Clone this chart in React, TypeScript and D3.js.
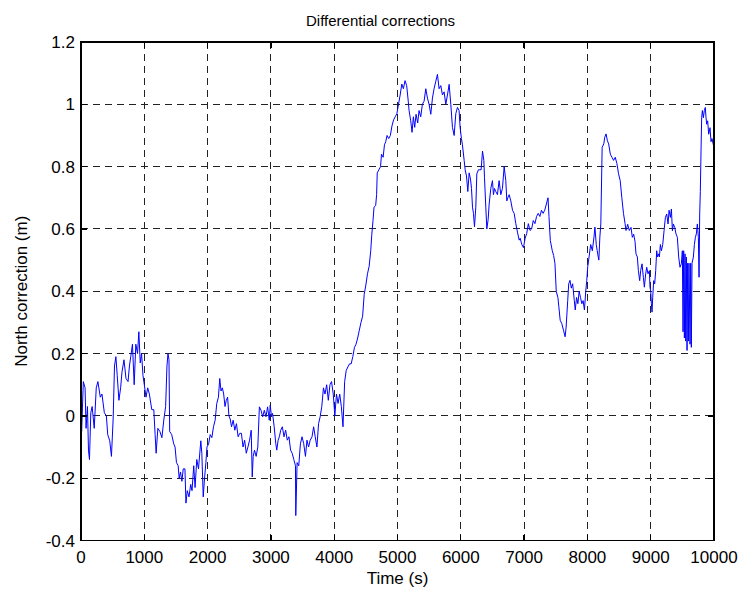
import React, { useEffect, useRef } from "react";
import * as d3 from "d3";

// time (s) of each sample
const times = [
  0, 10, 37, 64, 80, 102, 118, 134, 155, 176, 209, 241, 267, 305, 331, 369, 401, 422, 454, 481,
  508, 529, 551, 572, 599, 626, 647, 679, 711, 743, 765, 786, 813, 840, 866, 893, 914, 936, 957, 979,
  1000, 1027, 1054, 1080, 1118, 1150, 1171, 1187, 1214, 1246, 1278, 1310, 1337, 1358, 1374, 1390, 1401, 1433, 1465, 1486,
  1508, 1535, 1551, 1572, 1594, 1615, 1642, 1658, 1679, 1706, 1733, 1754, 1781, 1802, 1829, 1856, 1893, 1909, 1931, 1952,
  1973, 1990, 2016, 2041, 2067, 2093, 2119, 2145, 2171, 2192, 2212, 2233, 2254, 2275, 2295, 2316, 2337, 2357, 2378, 2404,
  2430, 2456, 2482, 2508, 2534, 2560, 2585, 2611, 2637, 2663, 2689, 2705, 2720, 2741, 2767, 2793, 2818, 2844, 2870, 2896,
  2922, 2948, 2974, 2989, 3010, 3026, 3052, 3077, 3093, 3114, 3134, 3155, 3181, 3207, 3233, 3259, 3285, 3311, 3336, 3362,
  3388, 3393, 3414, 3440, 3466, 3492, 3518, 3546, 3570, 3595, 3621, 3650, 3675, 3700, 3727, 3753, 3778, 3804, 3830, 3855,
  3881, 3907, 3933, 3958, 3985, 4010, 4036, 4061, 4087, 4113, 4139, 4165, 4190, 4216, 4242, 4268, 4294, 4320, 4345, 4371,
  4397, 4423, 4449, 4474, 4500, 4526, 4552, 4577, 4593, 4613, 4629, 4655, 4670, 4680, 4706, 4732, 4747, 4773, 4794, 4814,
  4835, 4861, 4887, 4912, 4938, 4964, 4990, 5016, 5042, 5068, 5093, 5119, 5145, 5170, 5183, 5209, 5230, 5251, 5272, 5293,
  5319, 5340, 5367, 5393, 5420, 5447, 5473, 5499, 5526, 5552, 5578, 5605, 5631, 5657, 5684, 5710, 5736, 5763, 5789, 5816,
  5842, 5868, 5895, 5921, 5947, 5973, 5989, 6010, 6026, 6053, 6069, 6090, 6111, 6132, 6153, 6169, 6185, 6200, 6216, 6237,
  6253, 6279, 6300, 6321, 6343, 6364, 6374, 6395, 6411, 6432, 6448, 6474, 6500, 6516, 6532, 6553, 6579, 6605, 6632, 6658,
  6685, 6711, 6727, 6743, 6764, 6790, 6817, 6843, 6869, 6895, 6922, 6938, 6964, 6990, 7016, 7041, 7067, 7093, 7119, 7145,
  7171, 7197, 7223, 7249, 7275, 7300, 7326, 7352, 7378, 7393, 7414, 7445, 7466, 7487, 7508, 7534, 7549, 7570, 7596, 7622,
  7648, 7664, 7689, 7705, 7725, 7746, 7767, 7793, 7808, 7829, 7850, 7870, 7891, 7912, 7932, 7953, 7974, 7990, 8005, 8026,
  8052, 8078, 8104, 8119, 8140, 8155, 8171, 8181, 8197, 8212, 8233, 8259, 8274, 8295, 8316, 8336, 8362, 8388, 8414, 8440,
  8466, 8492, 8518, 8544, 8570, 8595, 8610, 8636, 8662, 8689, 8710, 8731, 8752, 8768, 8789, 8805, 8826, 8842, 8863, 8884,
  8900, 8921, 8937, 8958, 8979, 8989, 9000, 9011, 9021, 9032, 9047, 9063, 9079, 9095, 9105, 9121, 9137, 9153, 9169, 9190,
  9211, 9232, 9253, 9274, 9290, 9311, 9327, 9343, 9358, 9379, 9400, 9421, 9442, 9463, 9484, 9500, 9511, 9521, 9532, 9542,
  9553, 9563, 9574, 9584, 9595, 9605, 9621, 9632, 9642, 9653, 9674, 9690, 9706, 9721, 9737, 9753, 9764, 9774, 9784, 9795,
  9805, 9816, 9832, 9847, 9863, 9874, 9884, 9900, 9916, 9937, 9953, 9968, 9990, 10000,
];

// north correction (m) at those times
const north = [
  0.0, -0.05, 0.11, 0.09, -0.04, 0.03, -0.11, -0.14, 0.01, 0.03, -0.04, 0.09, 0.11, 0.06, 0.07, 0.01, 0.0, -0.06, -0.08, -0.13,
  -0.01, 0.16, 0.19, 0.13, 0.05, 0.09, 0.14, 0.18, 0.12, 0.11, 0.16, 0.19, 0.23, 0.1, 0.23, 0.2, 0.27, 0.17, 0.2, 0.13,
  0.1, 0.06, 0.09, 0.07, 0.02, 0.02, -0.06, -0.12, -0.04, -0.05, -0.07, -0.01, 0.03, 0.16, 0.2, 0.18, -0.05, -0.06, -0.09, -0.1,
  -0.15, -0.16, -0.2, -0.18, -0.21, -0.17, -0.17, -0.28, -0.24, -0.26, -0.22, -0.24, -0.16, -0.23, -0.14, -0.17, -0.08, -0.12, -0.26, -0.2,
  -0.15, -0.1, -0.09, -0.06, -0.07, -0.035, -0.014, 0.04, 0.06, 0.12, 0.08, 0.09, 0.07, 0.03, 0.05, 0.06, 0.0, -0.01, -0.035, -0.014,
  -0.046, -0.025, -0.067, -0.056, -0.056, -0.1, -0.078, -0.12, -0.1, -0.078, -0.046, -0.196, -0.13, -0.11, -0.13, -0.1, 0.029, 0.018, -0.003, 0.018,
  -0.003, 0.029, -0.014, 0.034, -0.003, 0.008, -0.035, -0.089, -0.11, -0.078, -0.067, -0.046, -0.035, -0.067, -0.046, -0.078, -0.067, -0.11, -0.12, -0.14,
  -0.16, -0.32, -0.15, -0.16, -0.09, -0.067, -0.089, -0.13, -0.078, -0.1, -0.078, -0.067, -0.035, -0.067, -0.1, -0.025, -0.003, 0.03, 0.09, 0.07,
  0.1, 0.05, 0.1, 0.11, 0.07, 0.0, 0.07, 0.04, 0.07, 0.03, -0.035, 0.11, 0.146, 0.157, 0.167, 0.167, 0.19, 0.22, 0.23, 0.25,
  0.275, 0.3, 0.32, 0.39, 0.42, 0.456, 0.48, 0.53, 0.58, 0.627, 0.67, 0.675, 0.71, 0.78, 0.79, 0.8, 0.84, 0.83, 0.87, 0.88,
  0.9, 0.89, 0.9, 0.93, 0.95, 0.96, 0.97, 1.0, 1.03, 1.065, 1.05, 1.076, 1.06, 1.01, 0.98, 0.947, 0.91, 0.96, 0.926, 0.968,
  0.94, 0.98, 0.96, 1.0, 1.01, 1.05, 1.02, 1.0, 0.968, 1.02, 1.05, 1.074, 1.096, 1.05, 1.06, 1.03, 1.04, 1.0, 1.03, 1.064,
  1.0, 0.926, 0.9, 0.97, 0.99, 0.98, 0.926, 0.89, 0.87, 0.82, 0.79, 0.77, 0.72, 0.78, 0.76, 0.73, 0.67, 0.65, 0.607, 0.67,
  0.777, 0.79, 0.79, 0.79, 0.85, 0.82, 0.766, 0.67, 0.6, 0.63, 0.68, 0.73, 0.755, 0.71, 0.73, 0.72, 0.71, 0.755, 0.71, 0.73,
  0.8, 0.755, 0.69, 0.7, 0.71, 0.69, 0.66, 0.65, 0.617, 0.59, 0.564, 0.57, 0.55, 0.54, 0.57, 0.585, 0.617, 0.595, 0.6, 0.627,
  0.617, 0.64, 0.65, 0.64, 0.66, 0.65, 0.66, 0.68, 0.7, 0.64, 0.563, 0.53, 0.515, 0.49, 0.4, 0.38, 0.35, 0.307, 0.296, 0.275,
  0.254, 0.285, 0.37, 0.424, 0.435, 0.41, 0.424, 0.37, 0.34, 0.38, 0.36, 0.4, 0.38, 0.36, 0.37, 0.34, 0.4, 0.435, 0.478, 0.51,
  0.55, 0.53, 0.574, 0.606, 0.55, 0.53, 0.51, 0.5, 0.574, 0.616, 0.862, 0.873, 0.894, 0.905, 0.883, 0.873, 0.84, 0.83, 0.82, 0.83,
  0.81, 0.777, 0.755, 0.7, 0.65, 0.617, 0.595, 0.615, 0.595, 0.605, 0.573, 0.583, 0.56, 0.52, 0.51, 0.467, 0.434, 0.467, 0.488, 0.445,
  0.413, 0.456, 0.477, 0.456, 0.466, 0.413, 0.4, 0.36, 0.333, 0.381, 0.434, 0.424, 0.466, 0.53, 0.51, 0.52, 0.51, 0.55, 0.53, 0.55,
  0.594, 0.637, 0.648, 0.616, 0.66, 0.637, 0.664, 0.594, 0.616, 0.605, 0.584, 0.573, 0.51, 0.477, 0.488, 0.53, 0.27, 0.53, 0.25, 0.52,
  0.24, 0.51, 0.21, 0.49, 0.24, 0.49, 0.23, 0.49, 0.22, 0.49, 0.51, 0.55, 0.573, 0.584, 0.616, 0.573, 0.445, 0.648, 0.72, 0.85,
  0.957, 0.98, 0.957, 0.98, 0.99, 0.957, 0.936, 0.947, 0.904, 0.925, 0.88, 0.89, 0.87, 0.88,
];

const xTicks = [0, 1000, 2000, 3000, 4000, 5000, 6000, 7000, 8000, 9000, 10000];
const yTicks = [-0.4, -0.2, 0, 0.2, 0.4, 0.6, 0.8, 1, 1.2];

const W = 741;
const H = 590;
const margin = { left: 81, right: 27, top: 42, bottom: 49.5 };
const FONT = "Arial, 'Liberation Sans', Helvetica, sans-serif";

export default function App() {
  const svgRef = useRef<SVGSVGElement | null>(null);

  useEffect(() => {
    const svg = d3.select(svgRef.current).attr("width", W).attr("height", H);
    svg.selectAll("*").remove();

    const x = d3.scaleLinear().domain([0, 10000]).range([margin.left, W - margin.right]);
    const y = d3.scaleLinear().domain([-0.4, 1.2]).range([H - margin.bottom, margin.top]);
    const [x0, x1] = x.range();
    const [y0, y1] = y.range();

    svg.append("rect").attr("width", W).attr("height", H).attr("fill", "#fff");

    // dashed grid
    const grid = svg.append("g").attr("stroke", "#222").attr("stroke-width", 1)
      .attr("stroke-dasharray", "7,5").attr("shape-rendering", "crispEdges");
    xTicks.slice(1, -1).forEach(t => {
      grid.append("line").attr("x1", x(t)).attr("x2", x(t)).attr("y1", y0).attr("y2", y1);
    });
    yTicks.slice(1, -1).forEach(t => {
      grid.append("line").attr("x1", x0).attr("x2", x1).attr("y1", y(t)).attr("y2", y(t));
    });

    // the series
    const line = d3.line<number>().x((d, i) => x(times[i])).y(d => y(d));
    svg.append("path").datum(north).attr("d", line)
      .attr("fill", "none").attr("stroke", "#0000ff").attr("stroke-width", 1);

    // box and inward ticks
    const ax = svg.append("g").attr("stroke", "#000").attr("stroke-width", 1.3).attr("shape-rendering", "crispEdges");
    ax.append("rect").attr("x", x0).attr("y", y1).attr("width", x1 - x0).attr("height", y0 - y1).attr("fill", "none");
    xTicks.forEach(t => {
      ax.append("line").attr("x1", x(t)).attr("x2", x(t)).attr("y1", y0).attr("y2", y0 - 6);
      ax.append("line").attr("x1", x(t)).attr("x2", x(t)).attr("y1", y1).attr("y2", y1 + 6);
    });
    yTicks.forEach(t => {
      ax.append("line").attr("x1", x0).attr("x2", x0 + 6).attr("y1", y(t)).attr("y2", y(t));
      ax.append("line").attr("x1", x1).attr("x2", x1 - 6).attr("y1", y(t)).attr("y2", y(t));
    });

    const txt = svg.append("g").attr("font-family", FONT).attr("fill", "#000");
    xTicks.forEach(t => {
      txt.append("text").attr("x", x(t)).attr("y", y0 + 22).attr("text-anchor", "middle")
        .attr("font-size", 17).text(String(t));
    });
    yTicks.forEach(t => {
      txt.append("text").attr("x", x0 - 6).attr("y", y(t) + 6).attr("text-anchor", "end")
        .attr("font-size", 17).text(String(t));
    });

    txt.append("text").attr("x", (x0 + x1) / 2).attr("y", 584).attr("text-anchor", "middle")
      .attr("font-size", 17).text("Time (s)");
    txt.append("text").attr("transform", `translate(27,${(y0 + y1) / 2}) rotate(-90)`)
      .attr("text-anchor", "middle").attr("font-size", 17).text("North correction (m)");
    txt.append("text").attr("x", (x0 + x1) / 2 - 17).attr("y", 26).attr("text-anchor", "middle")
      .attr("font-size", 15).text("Differential corrections");
  }, []);

  return (
    <div style={{ position: "absolute", left: 0, top: 0 }}>
      <svg ref={svgRef}></svg>
    </div>
  );
}
